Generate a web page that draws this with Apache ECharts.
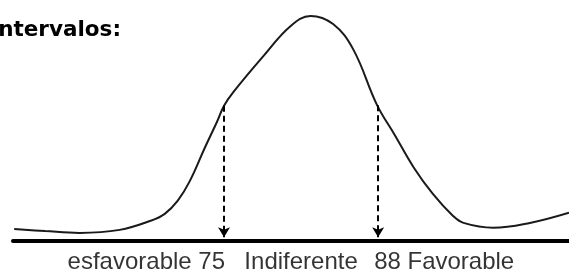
<!DOCTYPE html>
<html>
<head>
<meta charset="utf-8">
<script src="https://cdn.jsdelivr.net/npm/echarts@6/dist/echarts.min.js"></script>
<style>
  html, body { margin: 0; padding: 0; background: #fff; }
  #chart { width: 569px; height: 272px; }
</style>
</head>
<body>
<div id="chart"></div>
<script>
// curve (x = score, y = relative height)
const curveX = [57.3, 59.9, 62.8, 66.2, 68.8, 70.0, 71.1, 72.1, 73.4, 74.4, 75.0, 75.8, 78.3, 80.6, 82.3, 84.2, 85.9, 87.9, 89.4, 91.0, 92.6, 94.3, 95.2, 97.7, 100.8, 104.1];
const curveY = [5.2, 4.3, 3.5, 4.8, 8.7, 11.7, 17.4, 25.7, 40.4, 51.3, 58.3, 64.3, 79.6, 92.6, 97.0, 93.5, 82.6, 58.7, 45.7, 31.7, 20.4, 10.9, 7.8, 5.7, 7.8, 12.2];

// cut points with dashed arrows
const cutPoints = [75, 88];
const cutTop = [58.3, 58.5];

// zone labels under the axis
const zoneLabels = ['esfavorable 75', 'Indiferente', '88 Favorable'];
const zoneLabelX = [75, 81.5, 88];

const titleText = 'Intervalos:';

const chart = echarts.init(document.getElementById('chart'));

const labelAlign = ['right', 'center', 'left'];
const labelShift = [1, 0, -4];

chart.setOption({
  backgroundColor: '#fff',
  animation: false,
  grid: { left: 13, right: 0, top: 9, bottom: 31 },
  xAxis: {
    type: 'value',
    min: 57.2,
    max: 104.1,
    axisLine: { show: true, lineStyle: { color: '#000', width: 4 } },
    axisTick: { show: false },
    axisLabel: { show: false },
    splitLine: { show: false },
  },
  yAxis: {
    type: 'value',
    min: 0,
    max: 100,
    show: false,
  },
  graphic: [
    {
      type: 'text',
      x: 121,
      y: 30,
      style: {
        text: titleText,
        font: 'bold 21.5px "DejaVu Sans"',
        fill: '#000',
        align: 'right',
        verticalAlign: 'middle',
      },
    },
  ],
  series: [
    {
      type: 'line',
      data: curveX.map((x, i) => [x, curveY[i]]),
      smooth: 0.4,
      symbol: 'none',
      lineStyle: { color: '#1a1a1a', width: 2 },
      markLine: {
        silent: true,
        symbol: ['none', 'arrow'],
        symbolSize: [9, 10],
        label: { show: false },
        lineStyle: { color: '#000', width: 2, type: [6, 4] },
        data: cutPoints.map((x, i) => [
          { coord: [x, cutTop[i]] },
          { coord: [x, 1.6] },
        ]),
      },
    },
    {
      type: 'scatter',
      symbolSize: 1,
      itemStyle: { color: 'rgba(0,0,0,0)' },
      silent: true,
      data: zoneLabelX.map((x, i) => ({
        value: [x, 0],
        label: {
          show: true,
          formatter: zoneLabels[i],
          position: 'inside',
          align: labelAlign[i],
          verticalAlign: 'middle',
          offset: [labelShift[i], 21.5],
          color: '#000',
          fontFamily: 'Liberation Sans',
          fontSize: 24,
        },
      })),
    },
  ],
});
</script>
</body>
</html>
